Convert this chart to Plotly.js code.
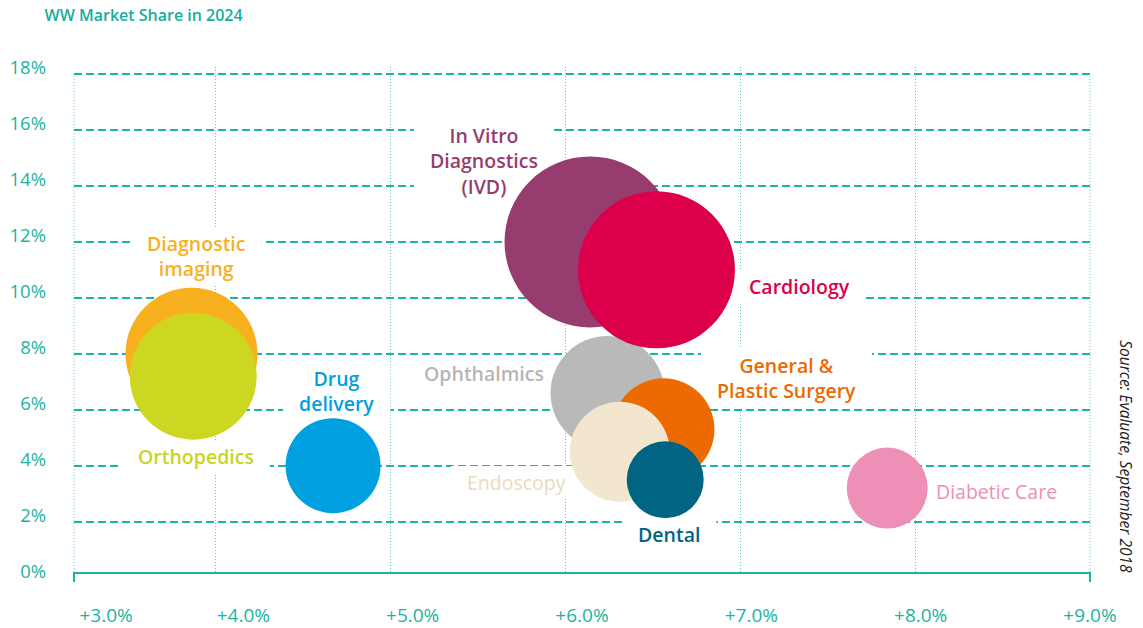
<!DOCTYPE html>
<html>
<head>
<meta charset="utf-8">
<script src="https://cdn.plot.ly/plotly-3.0.1.min.js"></script>
<style>html,body{margin:0;padding:0;background:#fff;}#chart{width:1143px;height:628px;}</style>
</head>
<body>
<div id="chart"></div>
<script>
// ---- data ----
const categories = ['Diagnostic imaging','Orthopedics','Drug delivery','In Vitro Diagnostics (IVD)','Ophthalmics','Cardiology','General & Plastic Surgery','Endoscopy','Dental','Diabetic Care'];
const growth = [3.86, 3.87, 4.67, 6.14, 6.24, 6.52, 6.56, 6.31, 6.57, 7.84];        // WW sales CAGR (%)
const share  = [8.0, 7.2, 4.0, 12.0, 6.6, 11.0, 5.3, 4.5, 3.5, 3.2];                  // WW market share 2024 (%)
const bubble = [132, 127, 95, 171, 114, 157, 102, 100, 77, 81];                       // relative bubble size
const labelText = ['Diagnostic<br>imaging','Orthopedics','Drug<br>delivery','In Vitro<br>Diagnostics<br>(IVD)','Ophthalmics','Cardiology','General &amp;<br>Plastic Surgery','Endoscopy','Dental','Diabetic Care'];
const xTickVals = [3, 4, 5, 6, 7, 8, 9];
const xTickText = ['\u00A0\u00A0\u00A0\u00A0\u00A0\u00A0\u00A0\u00A0\u00A0\u00A0\u00A0\u00A0\u00A0+3.0%','+4.0%','+5.0%','+6.0%','+7.0%','+8.0%','+9.0%'];
const yTickVals = [0, 2, 4, 6, 8, 10, 12, 14, 16, 18];
const yTickText = ['0%','2%','4%','6%','8%','10%','12%','14%','16%','18%'];

// ---- styles ----
const colors = ['#f9b01f','#cdd722','#009fe0','#973c6e','#b9b9b9','#dc004c','#ec6a00','#f2e6cf','#006482','#ee8fb7'];
const labelColors = ['#f9b01f','#c9d425','#009fe0','#973c6e','#b6b6b6','#dc004c','#ec6a00','#eadabd','#006482','#ee8fb7'];
const labelWeights = [600,600,600,600,600,600,600,400,600,400];
const labelShift = [[5,98],[3,-80],[3,75],[-106,81],[-124,19],[143,-17],[123,51],[-103,-31],[4,-55],[109,-3]];
const teal = '#1bb3a2';
const dotTeal = '#5cc8bb';
const FONT = 'Open Sans, sans-serif';

const trace = {
  type: 'scatter', mode: 'markers',
  x: growth, y: share, text: categories, hoverinfo: 'text',
  marker: { size: bubble, sizemode: 'diameter', sizeref: 1, color: colors, opacity: 1, line: { width: 0 } },
  showlegend: false, cliponaxis: false
};
const dummy = { type: 'scatter', x: [], y: [], xaxis: 'x2', yaxis: 'y2', showlegend: false, hoverinfo: 'skip' };

const annotations = categories.map((c, i) => ({
  x: growth[i], y: share[i], xref: 'x', yref: 'y',
  text: labelText[i], showarrow: false,
  xanchor: 'center', yanchor: 'middle',
  xshift: labelShift[i][0], yshift: labelShift[i][1],
  font: { family: FONT, size: 19.5, color: labelColors[i], weight: labelWeights[i] },
  borderpad: 0
}));
annotations.push({
  xref: 'paper', yref: 'paper', x: 1.036, y: 0.228, textangle: 90,
  text: 'Source: Evaluate, September 2018', showarrow: false,
  xanchor: 'center', yanchor: 'middle',
  font: { family: FONT, size: 15.5, color: '#222222', style: 'italic' }
});

const baseShapes = [
  { type: 'line', xref: 'paper', yref: 'y', x0: 0, x1: 0, y0: 0.202, y1: 18, line: { color: dotTeal, width: 1, dash: '1px,2px' }, layer: 'below' },
  { type: 'line', xref: 'paper', yref: 'y', x0: 1, x1: 1, y0: 0.202, y1: 18, line: { color: dotTeal, width: 1, dash: '1px,2px' }, layer: 'below' },
  { type: 'line', xref: 'paper', yref: 'paper', x0: 0, x1: 0, y0: 0, y1: -0.02, line: { color: teal, width: 2 } },
  { type: 'line', xref: 'paper', yref: 'paper', x0: 1, x1: 1, y0: 0, y1: -0.02, line: { color: teal, width: 2 } }
];

const layout = {
  width: 1143, height: 628,
  margin: { l: 74, r: 53, t: 67, b: 56 },
  paper_bgcolor: '#ffffff', plot_bgcolor: '#ffffff',
  title: { text: 'WW Market Share in 2024', xref: 'container', yref: 'container', x: 0.039, xanchor: 'left', y: 0.975, yanchor: 'middle',
           font: { family: FONT, size: 16, color: '#17ad9c', weight: 600 } },
  xaxis: { range: [3.188, 9.0], tick0: 4, dtick: 1, showgrid: true, gridcolor: dotTeal, griddash: '1px,2px', gridwidth: 1,
           showticklabels: false, ticks: '', zeroline: false, showline: true, linecolor: teal, linewidth: 2, fixedrange: true },
  yaxis: { range: [0.202, 18.25], tick0: 0, dtick: 2, showgrid: true, gridcolor: teal, griddash: '8px,4px', gridwidth: 2,
           showticklabels: false, ticks: '', zeroline: false, showline: false, fixedrange: true },
  xaxis2: { overlaying: 'x', side: 'bottom', range: [3, 9], tickmode: 'array', tickvals: xTickVals, ticktext: xTickText,
            showgrid: false, zeroline: false, showline: false, ticks: '', ticklabelstandoff: 30,
            tickfont: { family: FONT, size: 19, color: teal }, fixedrange: true },
  yaxis2: { overlaying: 'y', side: 'left', range: [0, 18.025], tickmode: 'array', tickvals: yTickVals, ticktext: yTickText,
            showgrid: false, zeroline: false, showline: false, ticks: '', ticklabelstandoff: 27,
            tickfont: { family: FONT, size: 18.5, color: teal }, fixedrange: true },
  shapes: baseShapes,
  annotations: annotations,
  hovermode: 'closest'
};

Plotly.newPlot('chart', [trace, dummy], layout, { displayModeBar: false }).then(gd => {
  // white knock-out boxes behind the labels: above the grid, below the bubbles
  const fl = gd._fullLayout, xa = fl.xaxis, ya = fl.yaxis;
  const box = gd.getBoundingClientRect();
  const padX = 16, padY = 3;
  const shapes = baseShapes.slice();
  gd.querySelectorAll('g.annotation').forEach(g => {
    const i = +g.getAttribute('data-index');
    if (!(i < categories.length)) return;
    const t = g.querySelector('text.annotation-text');
    if (!t) return;
    const r = t.getBoundingClientRect();
    const cx = box.left + xa._offset + xa.l2p(growth[i]);
    const cy = box.top + ya._offset + ya.l2p(share[i]);
    shapes.push({
      type: 'rect', layer: 'between', xref: 'x', yref: 'y',
      xsizemode: 'pixel', ysizemode: 'pixel', xanchor: growth[i], yanchor: share[i],
      x0: r.left - cx - padX, x1: r.right - cx + padX,
      y0: cy - r.bottom - padY, y1: cy - r.top + padY,
      fillcolor: '#ffffff', line: { width: 0 }
    });
  });
  return Plotly.relayout(gd, { shapes: shapes });
});
</script>
</body>
</html>
